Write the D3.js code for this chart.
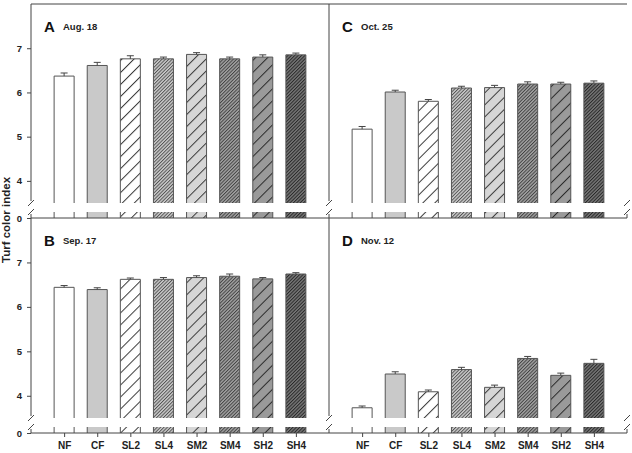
<!DOCTYPE html>
<meta charset="utf-8">
<head>
  <title>Turf color index</title>
</head>
<style>
  body { margin: 0; background: #fff; }
  text { font-family: Arial, "Liberation Sans", sans-serif; font-weight: bold; }
</style>
<body>
<svg width="632" height="453"></svg>
<script src="https://cdnjs.cloudflare.com/ajax/libs/d3/7.8.5/d3.min.js"></script>
<script>

var treatments = ["NF", "CF", "SL2", "SL4", "SM2", "SM4", "SH2", "SH4"];
var panelLetters = ["A", "B", "C", "D"];
var panelDates = ["Aug. 18", "Sep. 17", "Oct. 25", "Nov. 12"];

var aug18 = [6.37, 6.61, 6.76, 6.76, 6.86, 6.76, 6.80, 6.85];
var aug18Err = [0.07, 0.07, 0.07, 0.04, 0.04, 0.04, 0.05, 0.04];
var sep17 = [6.44, 6.39, 6.62, 6.62, 6.66, 6.69, 6.63, 6.74];
var sep17Err = [0.04, 0.04, 0.03, 0.04, 0.04, 0.05, 0.03, 0.03];
var oct25 = [5.17, 6.01, 5.80, 6.10, 6.11, 6.19, 6.19, 6.21];
var oct25Err = [0.06, 0.04, 0.04, 0.04, 0.05, 0.05, 0.04, 0.05];
var nov12 = [3.73, 4.49, 4.09, 4.59, 4.19, 4.84, 4.46, 4.73];
var nov12Err = [0.04, 0.05, 0.04, 0.05, 0.05, 0.045, 0.05, 0.09];

var yTicks = [4, 5, 6, 7];
var yTitle = "Turf color index";

var panelValues = [aug18, sep17, oct25, nov12];
var panelErrors = [aug18Err, sep17Err, oct25Err, nov12Err];

var svg = d3.select("svg");
var ink = "#444";

// layout: two columns, two rows, each row has an upper segment and a short stub at 0
var cols = [31, 329], colW = 298;
var rows = [
  {top: 4, brk: 203, low: 212, zero: 218},
  {top: 218, brk: 418, low: 427, zero: 433}
];
var panelPos = [{c: 0, r: 0}, {c: 0, r: 1}, {c: 1, r: 0}, {c: 1, r: 1}];

// fills for each treatment
var styles = [
  {bg: "#ffffff"},
  {bg: "#c9c9c9"},
  {bg: "#ffffff", hatch: "wide", line: "#3a3a3a"},
  {bg: "#cbcbcb", hatch: "dense", line: "#4a4a4a"},
  {bg: "#d6d6d6", hatch: "wide", line: "#3a3a3a"},
  {bg: "#a3a3a3", hatch: "dense", line: "#3a3a3a"},
  {bg: "#9a9a9a", hatch: "wide", line: "#2a2a2a"},
  {bg: "#777777", hatch: "dense", line: "#222"}
];

var defs = svg.append("defs");
styles.forEach(function(s, i) {
  if (!s.hatch) { s.fill = s.bg; return; }
  var gap = s.hatch == "wide" ? 8.5 : 2.4;
  var p = defs.append("pattern")
    .attr("id", "pat" + i)
    .attr("patternUnits", "userSpaceOnUse")
    .attr("width", gap).attr("height", gap)
    .attr("patternTransform", "rotate(45)");
  p.append("rect").attr("width", gap).attr("height", gap).attr("fill", s.bg);
  p.append("line")
    .attr("x1", 0.5).attr("y1", 0).attr("x2", 0.5).attr("y2", gap)
    .attr("stroke", s.line)
    .attr("stroke-width", s.hatch == "wide" ? 1 : 0.9);
  s.fill = "url(#pat" + i + ")";
});

function line(g, x1, y1, x2, y2) {
  g.append("line")
    .attr("x1", x1).attr("y1", y1).attr("x2", x2).attr("y2", y2)
    .attr("stroke", ink).attr("stroke-width", 1);
}

function slash(g, x, y) {
  line(g, x - 3, y + 3, x + 3, y - 3);
}

panelPos.forEach(function(pp, k) {
  var r = rows[pp.r];
  var x0 = cols[pp.c];
  var g = svg.append("g");

  var x = d3.scaleLinear().domain([0, 9]).range([x0, x0 + colW]);
  var y = d3.scaleLinear().domain([3.5, 8]).range([r.brk, r.top]);
  var yLow = d3.scaleLinear().domain([0, 1]).range([r.zero, r.low]);
  var bw = 20;
  var vals = panelValues[k], errs = panelErrors[k];

  // bars (upper segment)
  g.selectAll("rect.up")
    .data(vals)
    .enter().append("rect")
    .attr("class", "up")
    .attr("x", function(d, i) { return x(i + 1) - bw / 2; })
    .attr("y", function(d) { return y(d); })
    .attr("width", bw)
    .attr("height", function(d) { return r.brk - y(d); })
    .attr("fill", function(d, i) { return styles[i].fill; });

  g.selectAll("path.outline")
    .data(vals)
    .enter().append("path")
    .attr("class", "outline")
    .attr("fill", "none").attr("stroke", "#555").attr("stroke-width", 1)
    .attr("d", function(d, i) {
      var a = x(i + 1) - bw / 2, b = x(i + 1) + bw / 2;
      return "M" + a + "," + r.brk + "V" + y(d) + "H" + b + "V" + r.brk;
    });

  // bar stubs (lower segment)
  g.selectAll("rect.low")
    .data(vals)
    .enter().append("rect")
    .attr("class", "low")
    .attr("x", function(d, i) { return x(i + 1) - bw / 2; })
    .attr("y", r.low)
    .attr("width", bw)
    .attr("height", r.zero - r.low)
    .attr("fill", function(d, i) { return styles[i].fill; });

  g.selectAll("path.stub")
    .data(vals)
    .enter().append("path")
    .attr("class", "stub")
    .attr("fill", "none").attr("stroke", "#555").attr("stroke-width", 1)
    .attr("d", function(d, i) {
      var a = x(i + 1) - bw / 2, b = x(i + 1) + bw / 2;
      return "M" + a + "," + r.low + "V" + r.zero + "M" + b + "," + r.low + "V" + r.zero;
    });

  // error bars (upper only)
  vals.forEach(function(d, i) {
    var cx = x(i + 1);
    line(g, cx, y(d), cx, y(d + errs[i]));
    line(g, cx - 3.5, y(d + errs[i]), cx + 3.5, y(d + errs[i]));
  });

  // left axis with break
  line(g, x0, r.top, x0, r.brk - 2);
  line(g, x0, r.low + 2, x0, r.zero);
  slash(g, x0, r.brk);
  slash(g, x0, r.low);

  // right edge of right-hand panels
  if (pp.c == 1) {
    var xr = x0 + colW;
    line(g, xr, r.low + 2, xr, r.zero);
    slash(g, xr, r.brk);
    slash(g, xr, r.low);
  }

  // zero baseline
  line(g, x0, r.zero, x0 + colW, r.zero);
  if (pp.r == 0) line(g, x0, r.top, x0 + colW, r.top);

  // y tick labels on the left column only
  if (pp.c == 0) {
    var ya = g.append("g")
      .attr("transform", "translate(" + x0 + ",0)")
      .call(d3.axisLeft(y).tickValues(yTicks).tickFormat(d3.format("d"))
        .tickSize(4).tickPadding(5));
    var yb = g.append("g")
      .attr("transform", "translate(" + x0 + ",0)")
      .call(d3.axisLeft(yLow).tickValues([0]).tickFormat(d3.format("d"))
        .tickSize(4).tickPadding(5));
    [ya, yb].forEach(function(a) {
      a.select(".domain").remove();
      a.selectAll("line").attr("stroke", ink);
      a.selectAll("text").attr("font-size", 9.5).attr("fill", "#222")
        .attr("font-family", "Arial, 'Liberation Sans', sans-serif");
    });
  }

  // x axis labels on the bottom row
  if (pp.r == 1) {
    var xa = g.append("g")
      .attr("transform", "translate(0," + r.zero + ")")
      .call(d3.axisBottom(x).tickValues(d3.range(1, 9))
        .tickFormat(function(i) { return treatments[i - 1]; })
        .tickSize(4).tickPadding(5));
    xa.select(".domain").remove();
    xa.selectAll("line").attr("stroke", ink);
    xa.selectAll("text").attr("font-size", 10).attr("fill", "#222")
      .attr("font-family", "Arial, 'Liberation Sans', sans-serif");
  }

  // panel letter and date
  g.append("text")
    .attr("x", x0 + 13).attr("y", r.top + 28)
    .attr("font-size", 15).attr("fill", "#111")
    .text(panelLetters[k]);
  g.append("text")
    .attr("x", x0 + 32).attr("y", r.top + 26)
    .attr("font-size", 9.5).attr("fill", "#222")
    .text(panelDates[k]);
});

// y axis title
svg.append("text")
  .attr("transform", "translate(10,220) rotate(-90)")
  .attr("text-anchor", "middle")
  .attr("font-size", 11.5).attr("fill", "#222")
  .text(yTitle);

</script>
</body>
</html>
